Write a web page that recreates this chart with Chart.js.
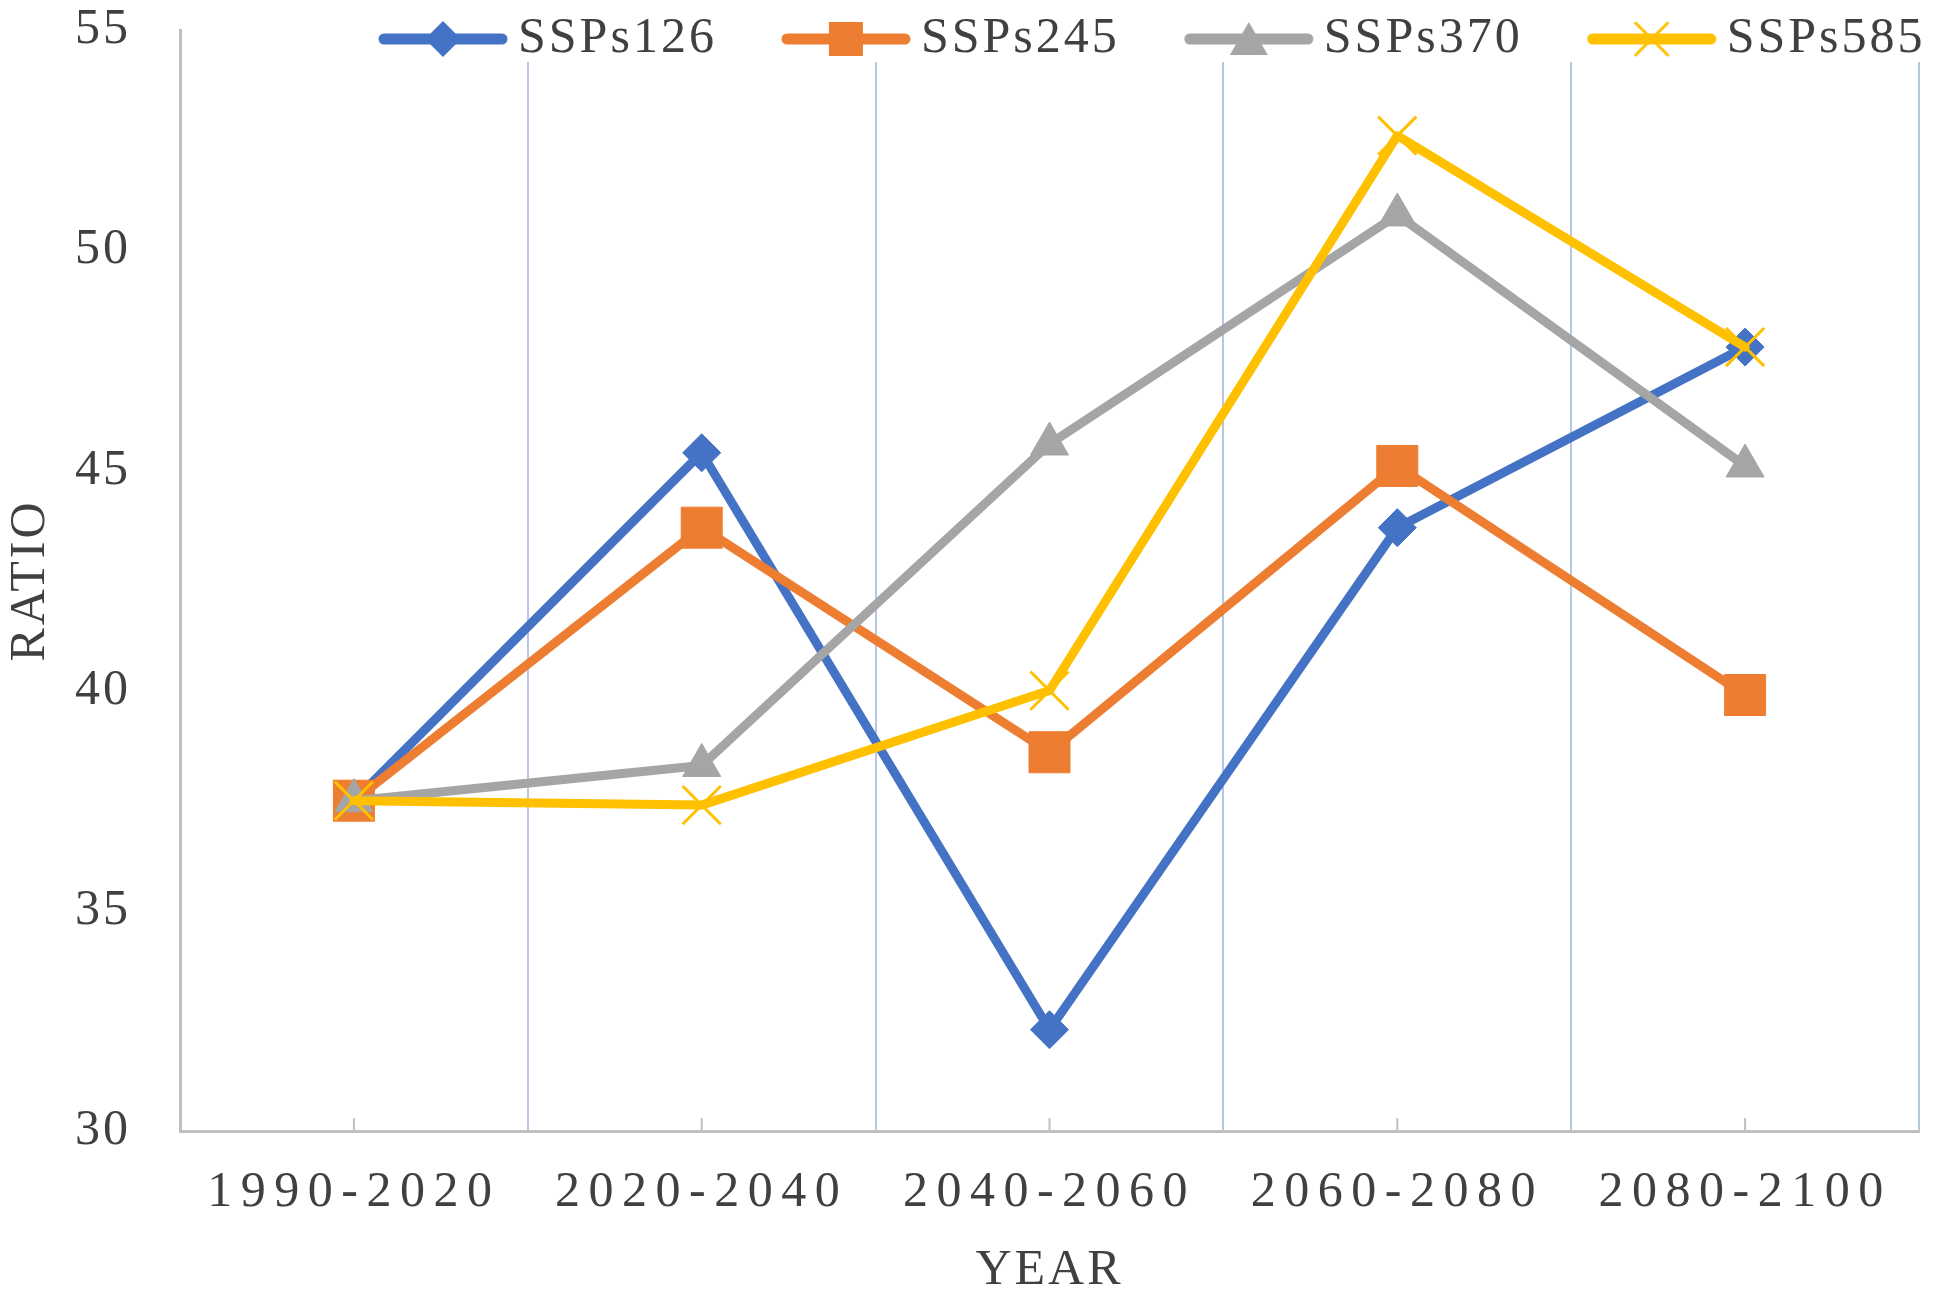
<!DOCTYPE html>
<html lang="en">
<head>
    <meta charset="UTF-8">
    <title>SSPs ratio</title>
    <script src="https://cdn.jsdelivr.net/npm/chart.js"></script>
    <style>
        html, body { margin: 0; padding: 0; background: #ffffff; }
        .chartBox { width: 1949px; height: 1307px; }
    </style>
</head>
<body>
<div class="chartBox">
    <canvas id="ratioChart"></canvas>
</div>
<script>
    // data
    const categories = ['1990-2020', '2020-2040', '2040-2060', '2060-2080', '2080-2100'];
    const seriesNames = ['SSPs126', 'SSPs245', 'SSPs370', 'SSPs585'];
    const ssp126 = [37.5, 45.4, 32.3, 43.7, 47.8];
    const ssp245 = [37.5, 43.7, 38.6, 45.1, 39.9];
    const ssp370 = [37.5, 38.3, 45.6, 50.8, 45.1];
    const ssp585 = [37.5, 37.4, 40.0, 52.6, 47.8];
    const yRange = [30, 55];
    const yStep = 5;

    const colors = ['#4472C4', '#ED7D31', '#A5A5A5', '#FFC000'];
    const markers = ['rectRot', 'rect', 'triangle', 'crossRot'];
    const markerSize = [19, 29, 22, 27];

    // small "line + marker" pictures for the legend
    function legendIcon(color, kind) {
        const c = document.createElement('canvas');
        c.width = 130; c.height = 44;
        const g = c.getContext('2d');
        g.strokeStyle = color; g.fillStyle = color;
        g.lineWidth = 11; g.lineCap = 'round';
        g.beginPath(); g.moveTo(6, 22); g.lineTo(124, 22); g.stroke();
        g.beginPath();
        if (kind === 'rectRot') {
            g.moveTo(65, 4); g.lineTo(83, 22); g.lineTo(65, 40); g.lineTo(47, 22); g.closePath(); g.fill();
        } else if (kind === 'rect') {
            g.fillRect(48, 5, 34, 34);
        } else if (kind === 'triangle') {
            g.moveTo(65, 5); g.lineTo(84, 38); g.lineTo(46, 38); g.closePath(); g.fill();
        } else {
            g.lineWidth = 3;
            g.moveTo(49, 6); g.lineTo(81, 38); g.moveTo(81, 6); g.lineTo(49, 38); g.stroke();
        }
        return c;
    }
    const icons = colors.map((c, i) => legendIcon(c, markers[i]));

    // letter spacing: a little everywhere, wider for the category labels (drawn after datasets)
    const spacing = {
        id: 'spacing',
        beforeLayout(chart) { chart.ctx.letterSpacing = '3px'; },
        beforeDraw(chart) { chart.ctx.letterSpacing = '3px'; },
        afterDatasetsDraw(chart) { chart.ctx.letterSpacing = '8.5px'; },
        afterDraw(chart) { chart.ctx.letterSpacing = '3px'; }
    };

    // small tick marks at the category centres, pointing up into the plot
    const centreTicks = {
        id: 'centreTicks',
        beforeDatasetsDraw(chart) {
            const ctx = chart.ctx, xs = chart.scales.x, b = chart.chartArea.bottom;
            ctx.save();
            ctx.strokeStyle = '#bfbfbf';
            ctx.lineWidth = 2;
            ctx.beginPath();
            categories.forEach((c, i) => {
                const px = xs.getPixelForValue(i);
                ctx.moveTo(px, b);
                ctx.lineTo(px, b - 13);
            });
            ctx.stroke();
            ctx.restore();
        }
    };

    // legend sits over the top of the plot, like the Excel original
    const legendInPlot = {
        id: 'legendInPlot',
        afterInit(chart) {
            const lg = chart.legend;
            const fit0 = lg.fit, draw0 = lg.draw;
            lg.fit = function () { fit0.call(this); this.height = 0; };
            lg.draw = function () {
                Object.assign(this, { left: 314, right: 2300, top: -65, bottom: 150 });
                const ctx = this.ctx;
                ctx.save();
                ctx.fillStyle = '#ffffff';
                ctx.fillRect(370, 0, 1555, 62);
                ctx.restore();
                draw0.call(this);
            };
        }
    };

    Chart.defaults.font.family = '"Liberation Serif", "Times New Roman", serif';
    Chart.defaults.font.size = 50;
    Chart.defaults.color = '#404040';

    const allSeries = [ssp126, ssp245, ssp370, ssp585];
    const ctx = document.getElementById('ratioChart').getContext('2d');
    const ratioChart = new Chart(ctx, {
        type: 'line',
        data: {
            labels: categories,
            datasets: allSeries.map((vals, i) => ({
                label: seriesNames[i],
                data: vals,
                borderColor: colors[i],
                backgroundColor: colors[i],
                borderWidth: 9,
                borderJoinStyle: 'round',
                borderCapStyle: 'round',
                tension: 0,
                fill: false,
                pointStyle: markers[i],
                pointRadius: markerSize[i],
                pointBackgroundColor: colors[i],
                pointBorderColor: colors[i],
                pointBorderWidth: markers[i] === 'crossRot' ? 3 : 1,
                order: 3 - i
            }))
        },
        options: {
            responsive: true,
            maintainAspectRatio: false,
            animation: false,
            events: [],
            layout: { padding: { left: 0, right: 4, top: 0, bottom: 0 } },
            plugins: {
                tooltip: { enabled: false },
                legend: {
                    position: 'top',
                    align: 'start',
                    labels: {
                        usePointStyle: true,
                        pointStyleWidth: 100,
                        padding: 79,
                        color: '#404040',
                        font: { size: 50 },
                        sort: (a, b) => a.datasetIndex - b.datasetIndex,
                        generateLabels: (chart) =>
                            Chart.defaults.plugins.legend.labels.generateLabels(chart)
                                .map(item => ({ ...item, pointStyle: icons[item.datasetIndex] }))
                    }
                }
            },
            scales: {
                x: {
                    offset: true,
                    afterFit: (s) => { s.height = 176; },
                    grid: { offset: true, color: '#b4c7e7', lineWidth: 2, drawTicks: false },
                    border: { color: '#bfbfbf', width: 3 },
                    ticks: { autoSkip: false, maxRotation: 0, padding: 32, z: 1, font: { size: 50 } },
                    title: { display: true, text: 'YEAR', font: { size: 50 }, padding: { top: 18, bottom: 6 } }
                },
                y: {
                    min: yRange[0],
                    max: yRange[1],
                    afterFit: (s) => { s.width = 180; },
                    // invisible tick marks give the gap between labels and axis
                    grid: { display: true, drawOnChartArea: false, drawTicks: true, tickLength: 49, tickColor: 'rgba(0,0,0,0)' },
                    border: { display: true, color: '#bfbfbf', width: 3 },
                    ticks: { stepSize: yStep, padding: 0, font: { size: 50 } },
                    title: { display: true, text: 'RATIO', font: { size: 50 }, padding: { top: 1, bottom: 0 } }
                }
            }
        },
        plugins: [spacing, centreTicks, legendInPlot]
    });
</script>
</body>
</html>
